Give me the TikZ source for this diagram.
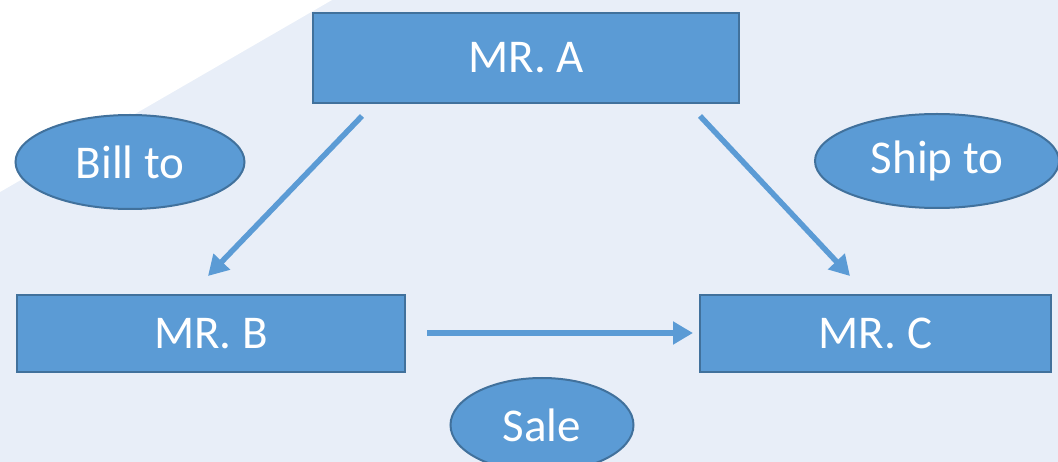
\documentclass[tikz,border=0pt]{standalone}
\usepackage{fontspec}
\setmainfont{Carlito}
\usetikzlibrary{arrows.meta,shapes.geometric}
\definecolor{bg}{HTML}{E8EEF8}
\definecolor{boxfill}{HTML}{5B9BD5}
\definecolor{boxline}{HTML}{41719C}
\begin{document}
\begin{tikzpicture}[x=1pt,y=-1pt,
  box/.style={draw=boxline,line width=2pt,fill=boxfill,text=white,font=\fontsize{47}{52}\selectfont,inner sep=0pt,anchor=north west},
  oval/.style={ellipse,draw=boxline,line width=2pt,fill=boxfill,text=white,font=\fontsize{47}{52}\selectfont,inner sep=0pt},
  conn/.style={draw=boxfill,line width=5.5pt,-{Triangle[length=20pt,width=22pt]}}]
\path[use as bounding box,fill=bg] (0,0) rectangle (1058,462);
\fill[white] (0,0) -- (332,0) -- (0,192) -- cycle;
\begin{scope}
\clip (0,0) rectangle (1058,462);
\node[box,minimum width=426pt,minimum height=90pt] (A) at (312,12) {MR. A};
\node[box,minimum width=388pt,minimum height=77pt] (B) at (16,294) {MR. B};
\node[box,minimum width=351pt,minimum height=77pt] (C) at (699,294) {MR. C};
\node[oval,minimum width=229pt,minimum height=94pt] (bill) at (130,162) {Bill to};
\node[oval,minimum width=244pt,minimum height=94pt] (ship) at (937,161) {Ship to};
\node[oval,minimum width=183pt,minimum height=94pt] (sale) at (542,425) {Sale};
\end{scope}
\coordinate (a1) at (362,116);
\coordinate (b1) at (208,276);
\coordinate (a2) at (700,116);
\coordinate (c1) at (850,276);
\coordinate (b2) at (427,333);
\coordinate (c2) at (693,333);
\draw[conn] (a1) -- (b1);
\draw[conn] (a2) -- (c1);
\draw[conn] (b2) -- (c2);
\end{tikzpicture}
\end{document}
